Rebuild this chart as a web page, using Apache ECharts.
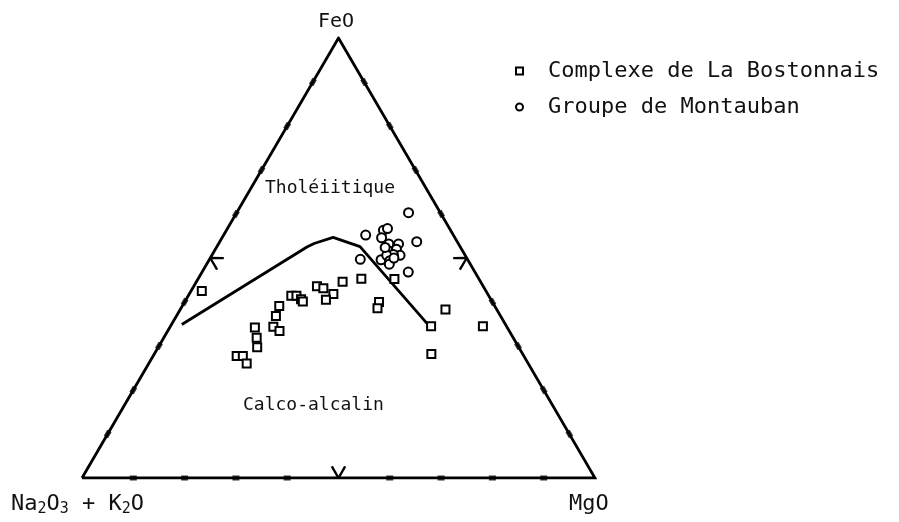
<!DOCTYPE html>
<html>
<head>
<meta charset="utf-8">
<script src="https://cdn.jsdelivr.net/npm/echarts@6/dist/echarts.min.js"></script>
<style>
  html, body { margin: 0; padding: 0; background: #fff; }
  #chart { width: 899px; height: 522px; }
</style>
</head>
<body>
<div id="chart"></div>
<script>
// AFM ternary diagram: compositions as [A (Na2O+K2O), F (FeO), M (MgO)] in percent
const bostonnaisAFM = [
  [55.4, 42.5, 2.1], [49.2, 34.2, 16.6], [50.0, 31.9, 18.1], [51.0, 29.7, 19.3],
  [56.0, 27.7, 16.3], [54.8, 27.7, 17.5], [54.9, 26.0, 19.1], [42.0, 39.1, 18.9],
  [43.8, 36.8, 19.4], [45.5, 34.4, 20.1], [44.8, 33.4, 21.8], [38.5, 41.4, 20.1],
  [37.5, 41.4, 21.1], [37.0, 40.6, 22.4], [36.9, 40.1, 23.0], [32.4, 43.6, 24.0],
  [31.4, 43.1, 25.5], [30.1, 41.8, 28.1], [32.2, 40.5, 27.3], [26.9, 44.6, 28.5],
  [22.9, 45.3, 31.8], [16.5, 45.2, 38.3], [22.1, 40.0, 37.9], [23.1, 38.6, 38.3],
  [14.7, 34.5, 50.8], [17.8, 28.2, 54.0], [10.0, 38.3, 51.7], [4.6, 34.5, 60.9]
];
const montaubanAFM = [
  [6.2, 60.3, 33.5], [17.1, 55.2, 27.7], [13.1, 56.3, 30.6], [12.1, 56.7, 31.2],
  [14.3, 54.6, 31.1], [7.9, 53.7, 38.4], [20.9, 49.7, 29.4], [16.9, 49.6, 33.5],
  [13.6, 53.2, 33.2], [11.7, 53.2, 35.1], [14.4, 51.6, 34.0], [12.7, 52.0, 35.3],
  [12.7, 50.6, 36.7], [13.9, 50.8, 35.3], [15.3, 50.6, 34.1], [15.3, 49.4, 35.3],
  [15.8, 48.6, 35.6], [13.0, 46.8, 40.2], [14.2, 50.0, 35.8], [14.7, 52.4, 32.9]
];
// Tholeiitic / calc-alkaline dividing line
const boundaryAFM = [
  [63.1, 34.9, 2.0], [29.9, 52.5, 17.6], [28.1, 53.3, 18.6], [23.7, 54.7, 21.6],
  [19.5, 52.6, 27.9], [15.1, 34.8, 50.1]
];
const vertexAFM = [[100, 0, 0], [0, 100, 0], [0, 0, 100]];
const tickPercents = [10, 20, 30, 40, 60, 70, 80, 90];
const midPercent = 50;

const seriesNames = ['Complexe de La Bostonnais', 'Groupe de Montauban'];
const vertexLabels = ['Na{s|2}O{s|3} + K{s|2}O', 'FeO', 'MgO'];
const fieldLabels = ['Tholéiitique', 'Calco-alcalin'];

const H = Math.sqrt(3) / 2;
function toXY(afm) {
  const f = afm[1], m = afm[2];
  return [m + f / 2, f * H];
}

// tick marks along each side
const ticks = [];
tickPercents.forEach(t => {
  ticks.push({ value: toXY([100 - t, 0, t]), symbolRotate: 0 });   // base A-M
  ticks.push({ value: toXY([100 - t, t, 0]), symbolRotate: 60 });  // left A-F
  ticks.push({ value: toXY([0, 100 - t, t]), symbolRotate: -60 }); // right F-M
});

// chevrons at side midpoints, opening towards the inside
function chevron(afm, n, t) {
  const v = toXY(afm), L = 2.3, W = 1.3;
  return [
    [v[0] + n[0] * L + t[0] * W, v[1] + n[1] * L + t[1] * W],
    v,
    [v[0] + n[0] * L - t[0] * W, v[1] + n[1] * L - t[1] * W]
  ];
}
const chevrons = [
  chevron([100 - midPercent, 0, midPercent], [0, 1], [1, 0]),
  chevron([100 - midPercent, midPercent, 0], [H, -0.5], [0.5, H]),
  chevron([0, 100 - midPercent, midPercent], [-H, -0.5], [-0.5, H])
];

const FONT = 'DejaVu Sans Mono';
const chart = echarts.init(document.getElementById('chart'));

const triangle = vertexAFM.concat([vertexAFM[0]]).map(toXY);

chart.setOption({
  animation: false,
  backgroundColor: '#fff',
  grid: { left: 82, top: 38, width: 513, height: 440 },
  xAxis: { type: 'value', min: 0, max: 100, show: false },
  yAxis: { type: 'value', min: 0, max: 100 * H, show: false },
  legend: {
    data: seriesNames,
    orient: 'vertical',
    left: 510,
    top: 55,
    itemWidth: 7,
    itemHeight: 7,
    itemGap: 14,
    textStyle: { fontFamily: FONT, fontSize: 22, color: '#111', lineHeight: 22, padding: [0, 0, 0, 20] }
  },
  series: [
    {
      type: 'line', data: triangle, symbol: 'none', silent: true,
      lineStyle: { color: '#000', width: 2.8, join: 'miter' }, z: 3
    },
    {
      type: 'scatter', data: ticks, symbol: 'rect', symbolSize: [7, 5], silent: true,
      itemStyle: { color: '#000' }, z: 3
    },
    ...chevrons.map(c => ({
      type: 'line', data: c, symbol: 'none', silent: true,
      lineStyle: { color: '#000', width: 2.4 }, z: 3
    })),
    {
      type: 'line', data: boundaryAFM.map(toXY), symbol: 'none', silent: true,
      lineStyle: { color: '#000', width: 2.8 }, z: 3
    },
    {
      name: seriesNames[0], type: 'scatter', data: bostonnaisAFM.map(toXY),
      symbol: 'rect', symbolSize: 8,
      itemStyle: { color: '#fff', borderColor: '#000', borderWidth: 2, opacity: 1 }, z: 5
    },
    {
      name: seriesNames[1], type: 'scatter', data: montaubanAFM.map(toXY),
      symbol: 'circle', symbolSize: 9,
      itemStyle: { color: '#fff', borderColor: '#000', borderWidth: 2, opacity: 1 }, z: 5
    }
  ],
  graphic: [
    {
      type: 'text', left: 318, top: 12,
      style: { text: vertexLabels[1], font: '20px "' + FONT + '"', fill: '#111' }
    },
    {
      type: 'text', left: 11, top: 493,
      style: {
        text: vertexLabels[0], font: '22px "' + FONT + '"', fill: '#111',
        rich: { s: { fontFamily: FONT, fontSize: 15, padding: [11, 0, 0, 0] } }
      }
    },
    {
      type: 'text', left: 569, top: 493,
      style: { text: vertexLabels[2], font: '22px "' + FONT + '"', fill: '#111' }
    },
    {
      type: 'text', left: 265, top: 179,
      style: { text: fieldLabels[0], font: '18px "' + FONT + '"', fill: '#111' }
    },
    {
      type: 'text', left: 243, top: 396,
      style: { text: fieldLabels[1], font: '18px "' + FONT + '"', fill: '#111' }
    }
  ]
});
</script>
</body>
</html>
